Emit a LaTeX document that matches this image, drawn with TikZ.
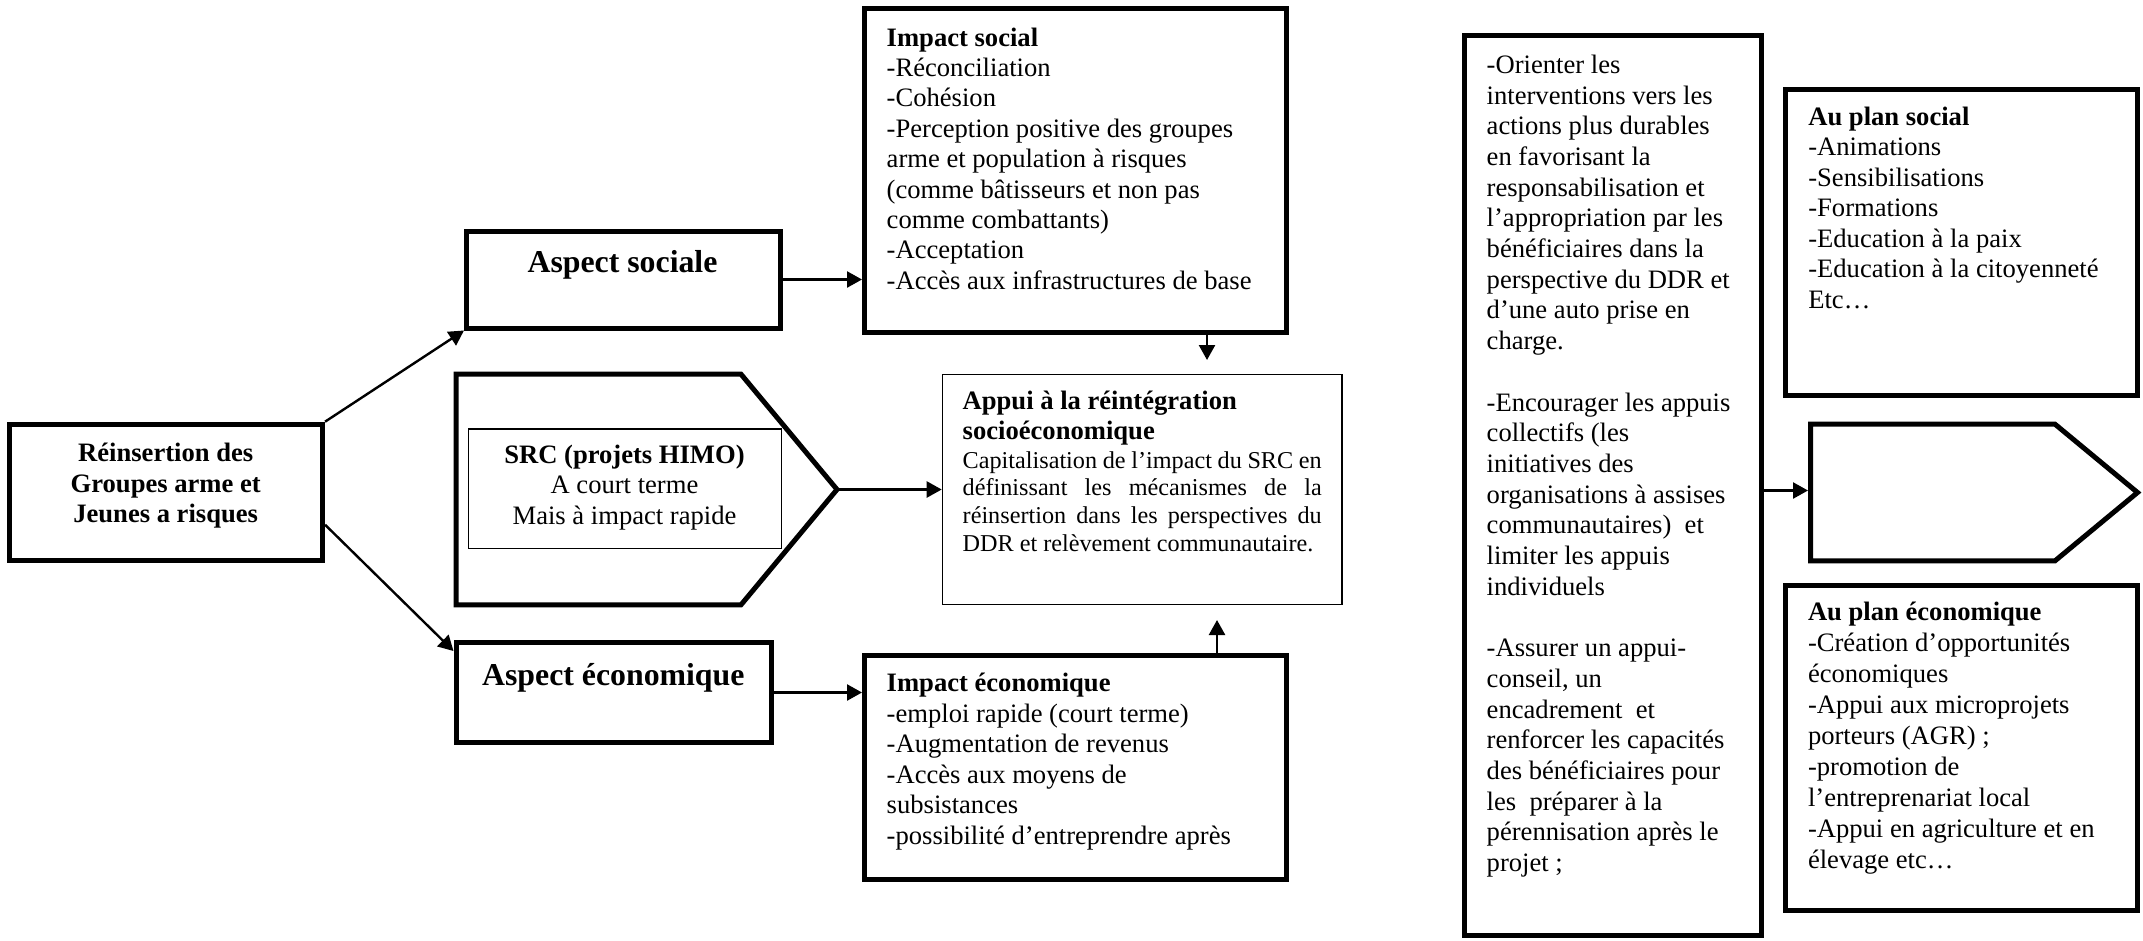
\documentclass[tikz,border=0pt]{standalone}
\usepackage{fontspec}
\setmainfont{Liberation Serif}
\usetikzlibrary{arrows.meta}
\begin{document}
\begin{tikzpicture}[x=1pt,y=-1pt,
  thickbox/.style={draw, line width=5pt, inner sep=0pt, rectangle},
  thinbox/.style={draw, line width=1.4pt, inner sep=0pt, rectangle},
  pent/.style={draw, line width=5pt, line join=miter},
  txt/.style={inner sep=0pt, outer sep=0pt, anchor=base west, align=left,
              font=\fontsize{26.6}{30.5}\selectfont},
  ctxt/.style={inner sep=0pt, outer sep=0pt, anchor=base, align=center,
              font=\fontsize{26.6}{30.4}\selectfont},
  big/.style={inner sep=0pt, outer sep=0pt, anchor=base,
              font=\fontsize{31.8}{36}\selectfont\bfseries},
  arr/.style={line width=2.4pt, -{Triangle[length=15pt,width=16pt]}}]
\useasboundingbox (0,0) rectangle (2143,940);
\fill[white] (0,0) rectangle (2143,940);

% ---- boxes ----
\node[thickbox, minimum width=312.7pt, minimum height=136pt] (reins) at (166.2,492.2) {};
\node[thickbox, minimum width=313.5pt, minimum height=97pt] (asoc) at (623.25,279.5) {};
\node[thickbox, minimum width=315pt, minimum height=100pt] (aeco) at (613.5,692.5) {};
\node[thickbox, minimum width=422pt, minimum height=324pt] (isoc) at (1075.5,170.5) {};
\node[thickbox, minimum width=422pt, minimum height=224pt] (ieco) at (1075.5,767) {};
\node[thinbox, minimum width=399.6pt, minimum height=229.6pt] (appui) at (1142.2,489.5) {};
\node[thickbox, minimum width=297pt, minimum height=900pt] (bigtxt) at (1612.75,485.8) {};
\node[thickbox, minimum width=352.4pt, minimum height=306.6pt] (psoc) at (1961.4,242.5) {};
\node[thickbox, minimum width=352.8pt, minimum height=325pt] (peco) at (1961.4,747.5) {};

% ---- pentagons ----
\draw[pent] (456,374.2) -- (741,374.2) -- (837,489.5) -- (741,604.8) -- (456,604.8) -- cycle;
\coordinate (srctip) at (837,489.5);
\node[thinbox, minimum width=313.3pt, minimum height=119.2pt] (srcin) at (625,488.6) {};
\draw[pent] (1810.5,424.2) -- (2055,424.2) -- (2137.5,492.5) -- (2055,560.8) -- (1810.5,560.8) -- cycle;
\coordinate (rpw) at (1808,490.5);

% ---- texts (anchored at the baseline of their last line) ----
\node[ctxt, font=\fontsize{26.6}{30.5}\selectfont\bfseries] (reinstxt) at (165.7,522.7)
  {Réinsertion des\\Groupes arme et\\Jeunes a risques};
\node[big] (asoctxt) at (622.5,272.7) {Aspect sociale};
\node[big] (aecotxt) at (613.3,685) {Aspect économique};
\node[ctxt] (srctxt) at (624.5,524.1)
  {\textbf{SRC (projets HIMO)}\\A court terme\\Mais à impact rapide};

\node[txt, font=\fontsize{26.6}{30.4}\selectfont] (isoctxt) at (886.7,289.2)
  {\textbf{Impact social}\\
   -Réconciliation\\
   -Cohésion\\
   -Perception positive des groupes\\
   arme et population à risques\\
   (comme bâtisseurs et non pas\\
   comme combattants)\\
   -Acceptation\\
   -Accès aux infrastructures de base};

\node[txt, font=\fontsize{26.6}{30.2}\selectfont\bfseries] (appuititle) at (962.7,439.5)
  {Appui à la réintégration\\socioéconomique};
\node[txt, font=\fontsize{24.2}{27.6}\selectfont] (appuibody) at (962.7,551.1)
  {\makebox[359pt][s]{Capitalisation de l’impact du SRC en}\\
   \makebox[359pt][s]{définissant les mécanismes de la}\\
   \makebox[359pt][s]{réinsertion dans les perspectives du}\\
   DDR et relèvement communautaire.};

\node[txt] (iecotxt) at (886.7,844.2)
  {\textbf{Impact économique}\\
   -emploi rapide (court terme)\\
   -Augmentation de revenus\\
   -Accès aux moyens de\\
   subsistances\\
   -possibilité d’entreprendre après};

\node[txt, font=\fontsize{26.6}{30.7}\selectfont] (bigtxttxt) at (1486.7,871.5)
  {-Orienter les\\
   interventions vers les\\
   actions plus durables\\
   en favorisant la\\
   responsabilisation et\\
   l’appropriation par les\\
   bénéficiaires dans la\\
   perspective du DDR et\\
   d’une auto prise en\\
   charge.\\[30.7pt]
   -Encourager les appuis\\
   collectifs (les\\
   initiatives des\\
   organisations à assises\\
   communautaires)\ \ et\\
   limiter les appuis\\
   individuels\\[30.7pt]
   -Assurer un appui-\\
   conseil, un\\
   encadrement\ \ et\\
   renforcer les capacités\\
   des bénéficiaires pour\\
   les\ \ préparer à la\\
   pérennisation après le\\
   projet ;};

\node[txt, font=\fontsize{26.6}{30.55}\selectfont] (psoctxt) at (1808.3,308.3)
  {\textbf{Au plan social}\\
   -Animations\\
   -Sensibilisations\\
   -Formations\\
   -Education à la paix\\
   -Education à la citoyenneté\\
   Etc…};

\node[txt, font=\fontsize{26.6}{31}\selectfont] (pecotxt) at (1808,868)
  {\textbf{Au plan économique}\\
   -Création d’opportunités\\
   économiques\\
   -Appui aux microprojets\\
   porteurs (AGR) ;\\
   -promotion de\\
   l’entreprenariat local\\
   -Appui en agriculture et en\\
   élevage etc…};

% ---- connectors ----
\draw[arr] (reins.north east) -- (asoc.south west);
\draw[arr] ([yshift=-103pt]reins.north east) -- ([yshift=-11pt]aeco.north west);
\draw[arr] (asoc.east) -- (asoc.east -| isoc.west);
\draw[arr] (aeco.east) -- (aeco.east -| ieco.west);
\draw[arr] (srctip) -- (srctip -| appui.west);
\draw[arr, shorten >=14pt] ([xshift=345pt]isoc.south west) -- ([xshift=345pt]isoc.south west |- appui.north);
\draw[arr, shorten >=15pt] ([xshift=355pt]ieco.north west) -- ([xshift=355pt]ieco.north west |- appui.south);
\draw[arr] (bigtxt.east |- rpw) -- (rpw);
\end{tikzpicture}
\end{document}
